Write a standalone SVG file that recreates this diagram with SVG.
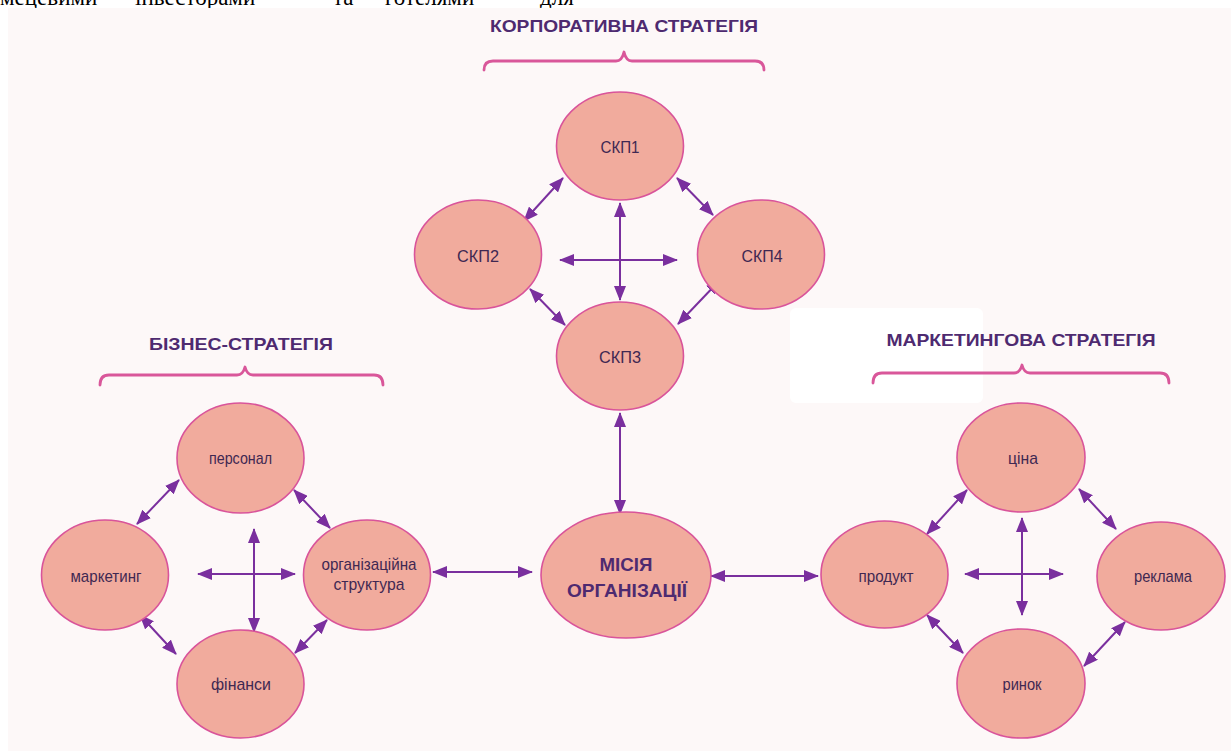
<svg xmlns="http://www.w3.org/2000/svg" width="1231" height="751" viewBox="0 0 1231 751">
<style>
.bg{fill:#fdf8f8}
.node{fill:#f1ab9d;stroke:#d9549a;stroke-width:1.6}
.lbl{font-family:"Liberation Sans",Arial,sans-serif;font-size:17px;fill:#3f2852;text-anchor:middle}
.head{font-family:"Liberation Sans",Arial,sans-serif;font-size:17px;font-weight:bold;fill:#4e2a70;text-anchor:middle}
.mis{font-family:"Liberation Sans",Arial,sans-serif;font-size:18px;font-weight:bold;fill:#4e2a70;text-anchor:middle}
.brace{fill:none;stroke:#d9579a;stroke-width:2.8;stroke-linecap:round;stroke-linejoin:round}
.conn line{stroke:#7a2f9e;stroke-width:2;marker-start:url(#ah);marker-end:url(#ah)}
.doc{font-family:"Liberation Serif","Times New Roman",serif;font-size:23px;fill:#000}
</style>
<defs>
<marker id="ah" viewBox="0 0 15 12" markerWidth="15" markerHeight="12" refX="14" refY="6" orient="auto-start-reverse" markerUnits="userSpaceOnUse">
<path d="M0,0 L15,6 L0,12 z" fill="#7a2f9e"/>
</marker>
</defs>
<rect width="1231" height="751" fill="#ffffff"/>
<g id="doc-text">
<text class="doc" x="0" y="5">мецевими</text>
<text class="doc" x="135" y="5">інвесторами</text>
<text class="doc" x="333" y="5">та</text>
<text class="doc" x="385" y="5">готелями</text>
<text class="doc" x="540" y="5">для</text>
</g>
<rect class="bg" x="8" y="8" width="1223" height="743"/>
<rect x="790" y="308" width="193" height="95" rx="6" fill="#ffffff"/>

<g id="headings">
<text class="head" x="624" y="32" textLength="268" lengthAdjust="spacingAndGlyphs">КОРПОРАТИВНА СТРАТЕГІЯ</text>
<path class="brace" d="M484,70 Q484,61 493,61 L616,61 Q622,61 624,52 Q626,61 632,61 L755,61 Q764,61 764,70"/>
<text class="head" x="241" y="350" textLength="184" lengthAdjust="spacingAndGlyphs">БІЗНЕС-СТРАТЕГІЯ</text>
<path class="brace" d="M100,385 Q100,375 109,375 L237,375 Q243,375 245,367 Q247,375 253,375 L374,375 Q383,375 383,385"/>
<text class="head" x="1021" y="346" textLength="269" lengthAdjust="spacingAndGlyphs">МАРКЕТИНГОВА СТРАТЕГІЯ</text>
<path class="brace" d="M873,383 Q873,373 882,373 L1014,373 Q1020,373 1022,365 Q1024,373 1030,373 L1160,373 Q1169,373 1169,383"/>
</g>

<g class="conn" id="connectors">
<line x1="560" y1="260" x2="677" y2="260"/>
<line x1="620" y1="203" x2="620" y2="300"/>
<line x1="563" y1="178" x2="524" y2="221"/>
<line x1="677" y1="178" x2="713" y2="215"/>
<line x1="530" y1="289" x2="565" y2="325"/>
<line x1="720" y1="280" x2="678" y2="324"/>
<line x1="620" y1="413" x2="620" y2="514"/>
<line x1="198" y1="574" x2="295" y2="574"/>
<line x1="254" y1="529" x2="254" y2="632"/>
<line x1="179" y1="480" x2="137" y2="524"/>
<line x1="294" y1="490" x2="330" y2="528"/>
<line x1="140" y1="615" x2="176" y2="654"/>
<line x1="327" y1="620" x2="295" y2="653"/>
<line x1="433" y1="572" x2="532" y2="572"/>
<line x1="711" y1="576" x2="818" y2="576"/>
<line x1="965" y1="574" x2="1063" y2="574"/>
<line x1="1022" y1="518" x2="1022" y2="615"/>
<line x1="967" y1="490" x2="927" y2="534"/>
<line x1="1079" y1="489" x2="1116" y2="529"/>
<line x1="927" y1="615" x2="963" y2="653"/>
<line x1="1125" y1="622" x2="1084" y2="666"/>
</g>

<g id="skp1"><ellipse class="node" cx="620" cy="146" rx="63.5" ry="54"/><text class="lbl" x="620" y="153" textLength="39" lengthAdjust="spacingAndGlyphs">СКП1</text></g>
<g id="skp2"><ellipse class="node" cx="478" cy="254.5" rx="63.5" ry="54.5"/><text class="lbl" x="478" y="262" textLength="42" lengthAdjust="spacingAndGlyphs">СКП2</text></g>
<g id="skp4"><ellipse class="node" cx="761" cy="254.5" rx="63.5" ry="54.5"/><text class="lbl" x="762" y="262" textLength="41" lengthAdjust="spacingAndGlyphs">СКП4</text></g>
<g id="skp3"><ellipse class="node" cx="620" cy="356" rx="63.5" ry="54"/><text class="lbl" x="620" y="363" textLength="42" lengthAdjust="spacingAndGlyphs">СКП3</text></g>

<g id="misiia"><ellipse class="node" cx="626" cy="575" rx="85" ry="63"/>
<text class="mis" x="626" y="571" textLength="53" lengthAdjust="spacingAndGlyphs">МІСІЯ</text>
<text class="mis" x="627" y="597" textLength="120" lengthAdjust="spacingAndGlyphs">ОРГАНІЗАЦІЇ</text></g>

<g id="personal"><ellipse class="node" cx="240.5" cy="458" rx="63.5" ry="55"/><text class="lbl" x="240.5" y="464" textLength="63" lengthAdjust="spacingAndGlyphs">персонал</text></g>
<g id="marketynh"><ellipse class="node" cx="105" cy="575" rx="63.5" ry="55"/><text class="lbl" x="106" y="582" textLength="71" lengthAdjust="spacingAndGlyphs">маркетинг</text></g>
<g id="orgstruktura"><ellipse class="node" cx="367" cy="575" rx="63.5" ry="55"/>
<text class="lbl" x="369" y="570" textLength="95" lengthAdjust="spacingAndGlyphs">організаційна</text>
<text class="lbl" x="369" y="590" textLength="71" lengthAdjust="spacingAndGlyphs">структура</text></g>
<g id="finansy"><ellipse class="node" cx="240.5" cy="684" rx="63.5" ry="54"/><text class="lbl" x="241" y="690" textLength="60" lengthAdjust="spacingAndGlyphs">фінанси</text></g>

<g id="tsina"><ellipse class="node" cx="1021" cy="457.5" rx="64" ry="54.5"/><text class="lbl" x="1023" y="464" textLength="30" lengthAdjust="spacingAndGlyphs">ціна</text></g>
<g id="produkt"><ellipse class="node" cx="884.5" cy="574.5" rx="63.5" ry="53.5"/><text class="lbl" x="886" y="582" textLength="55" lengthAdjust="spacingAndGlyphs">продукт</text></g>
<g id="reklama"><ellipse class="node" cx="1161" cy="576" rx="64" ry="54"/><text class="lbl" x="1163" y="582" textLength="58" lengthAdjust="spacingAndGlyphs">реклама</text></g>
<g id="rynok"><ellipse class="node" cx="1021" cy="683.5" rx="64" ry="54.5"/><text class="lbl" x="1022" y="690" textLength="39" lengthAdjust="spacingAndGlyphs">ринок</text></g>
</svg>
